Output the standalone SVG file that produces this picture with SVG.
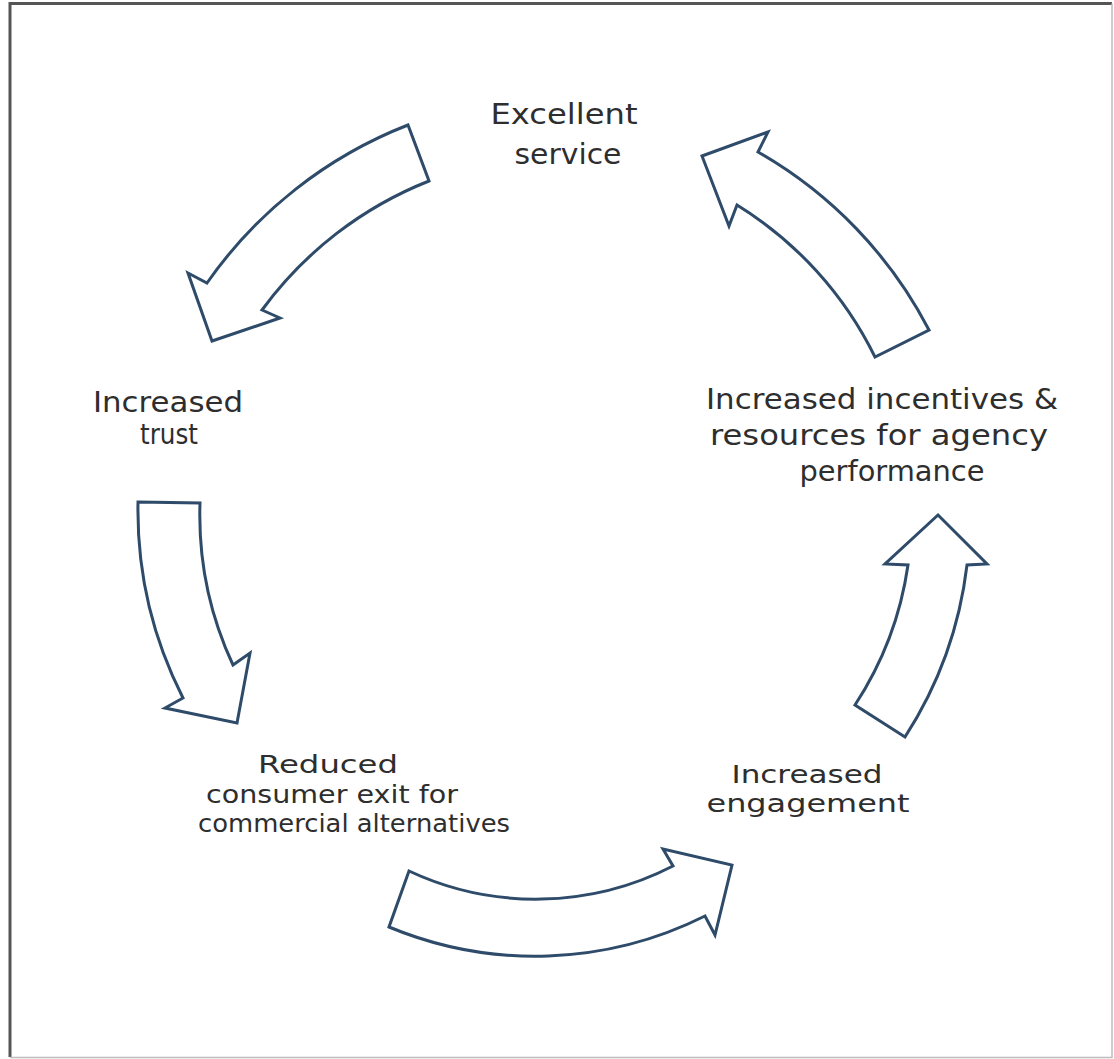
<svg xmlns="http://www.w3.org/2000/svg" width="1114" height="1059" viewBox="0 0 1114 1059">
  <style>
    .label { font-family: "DejaVu Sans", "Liberation Sans", sans-serif; font-size: 29px; fill: #2e2e2e; text-anchor: middle; }
    .tight { font-size: 25px; }
    .arrow { fill: #ffffff; stroke: #2f4b6a; stroke-width: 3; stroke-linejoin: miter; }
  </style>

  <!-- page background and frame -->
  <rect x="0" y="0" width="1114" height="1059" fill="#ffffff"/>
  <path d="M10,1057 V3.5 H1112" fill="none" stroke="#555555" stroke-width="3"/>
  <path d="M1112,3.5 V1057.5 H10" fill="none" stroke="#bdbdbd" stroke-width="1.5"/>

  <!-- block arrows of the cycle -->
  <g id="connectors">
    <path class="arrow" d="M408,125 A440,440 0 0 0 207,283 L188,273 L212,341 L280,318 L262,310 A380,380 0 0 1 429,181 Z"/>
    <path class="arrow" d="M138,502 L200,503 A356,356 0 0 0 233,665 L250,653 L237,723 L165,708 L183,698 A415,415 0 0 1 138,502 Z"/>
    <path class="arrow" d="M409,871 A300,300 0 0 0 673,866 L663,849 L732,865 L715,935 L705,916 A380,380 0 0 1 389,927 Z"/>
    <path class="arrow" d="M855,705 A345,345 0 0 0 908,565 L885,564 L938,515 L987,564 L967,565 A405,405 0 0 1 905,737 Z"/>
    <path class="arrow" d="M875,357 A370,370 0 0 0 737,205 L729,226 L702,156 L768,132 L758,152 A436,436 0 0 1 929,330 Z"/>
  </g>

  <g id="node-excellent-service">
    <text class="label" x="564" y="124" textLength="147" lengthAdjust="spacingAndGlyphs">Excellent</text>
    <text class="label" x="568" y="164" textLength="107" lengthAdjust="spacingAndGlyphs">service</text>
  </g>

  <g id="node-increased-trust">
    <text class="label" x="168" y="412" textLength="150" lengthAdjust="spacingAndGlyphs">Increased</text>
    <text class="label" x="169" y="444" textLength="58" lengthAdjust="spacingAndGlyphs">trust</text>
  </g>

  <g id="node-reduced-exit">
    <text class="label tight" x="328" y="773" textLength="140" lengthAdjust="spacingAndGlyphs">Reduced</text>
    <text class="label tight" x="332" y="803" textLength="252" lengthAdjust="spacingAndGlyphs">consumer exit for</text>
    <text class="label tight" x="354" y="832" textLength="312" lengthAdjust="spacingAndGlyphs">commercial alternatives</text>
  </g>

  <g id="node-increased-engagement">
    <text class="label tight" x="807" y="783" textLength="151" lengthAdjust="spacingAndGlyphs">Increased</text>
    <text class="label tight" x="808" y="812" textLength="203" lengthAdjust="spacingAndGlyphs">engagement</text>
  </g>

  <g id="node-incentives">
    <text class="label" x="882" y="409" textLength="352" lengthAdjust="spacingAndGlyphs">Increased incentives &amp;</text>
    <text class="label" x="879" y="445" textLength="338" lengthAdjust="spacingAndGlyphs">resources for agency</text>
    <text class="label" x="892" y="481" textLength="185" lengthAdjust="spacingAndGlyphs">performance</text>
  </g>
</svg>
